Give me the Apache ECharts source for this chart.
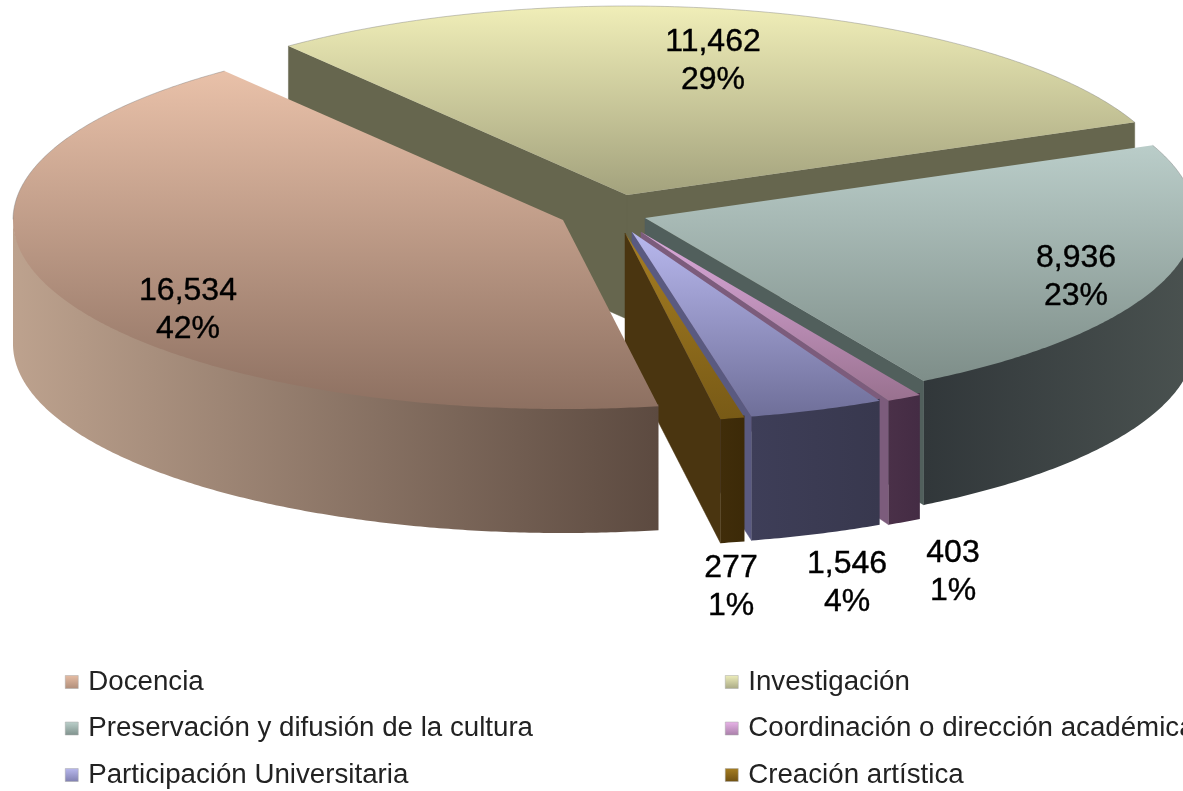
<!DOCTYPE html>
<html><head><meta charset="utf-8">
<style>html,body{margin:0;padding:0;background:#fff}#c{width:1183px;height:791px}</style>
<script src="https://cdn.jsdelivr.net/npm/echarts@6/dist/echarts.min.js"></script>
</head><body><div id="c"></div>
<script>
const categories = ['Docencia','Investigación','Preservación y difusión de la cultura','Coordinación o dirección académica','Participación Universitaria','Creación artística'];
const values = [16534,11462,8936,403,1546,277];
const percents = [42,29,23,1,4,1];

// layout of the 3D pie
const RX = 550, RY = 189, DEPTH = 124, START_DEG = -80;
const apexes = [[563,220],[627,195],[645,218],[641,232],[632,232],[625,233]];
const labelCenters = [[188,310],[713,61],[1076,277],[953,572],[847,583],[731,587]];
const drawOrder = [1,2,3,4,5,0];
const topColors = [['#e9c1a9','#8d7061'],['#f0eeb8','#a3a27d'],['#bacdc9','#7e8e89'],['#dcaadc','#99718f'],['#b8b8ee','#6f6f99'],['#a67e22','#785a16']];
const radialColors = ['#6b564a','#66664e','#515f5c','#7c5c7c','#5a5a80','#4a3510'];
const wallColors = [['#bda28e','#5c4a40'],['#66664e','#66664e'],['#31373a','#4a5250'],['#4a3048','#442c44'],['#3e3e58','#38384e'],['#402d0a','#3c2a08']];
const legendColors = [['#e6bda4','#b08e7a'],['#eeeebb','#a9a985'],['#bcd0cb','#7f928d'],['#e8b4e8','#a97fa9'],['#b9b9ee','#8080b0'],['#a67e22','#6f5012']];

const total = values.reduce((a,b)=>a+b,0);
const spans = values.map(v=>v/total*360);
const hiAngles = spans.map((_,i)=>START_DEG - spans.slice(0,i).reduce((a,b)=>a+b,0));

const rad = d => d*Math.PI/180;
const vgrad = c => ({type:'linear',x:0,y:0,x2:0,y2:1,colorStops:[{offset:0,color:c[0]},{offset:1,color:c[1]}]});
const hgrad = c => ({type:'linear',x:0,y:0,x2:1,y2:0,colorStops:[{offset:0,color:c[0]},{offset:1,color:c[1]}]});

function renderSlice(i, api){
  const span = api.value(0)/total*360;
  const hi = hiAngles[i], lo = hi - span;       // slice runs clockwise from hi to lo
  const [cx,cy] = apexes[i];
  const pt = (a,dz=0)=>[cx+RX*Math.cos(rad(a)), cy-RY*Math.sin(rad(a))+dz];
  const arc = (a,b,dz=0)=>{const n=Math.max(2,Math.ceil(Math.abs(b-a)*2)),o=[];
    for(let k=0;k<=n;k++)o.push(pt(a+(b-a)*k/n,dz));return o;};
  const kids = [];
  const wall = (a)=>({type:'polygon',shape:{points:[[cx,cy],pt(a),pt(a,DEPTH),[cx,cy+DEPTH]]},
    style:{fill:radialColors[i],stroke:radialColors[i],lineWidth:0.5}});
  if(Math.sin(rad(hi+90))<0) kids.push(wall(hi));
  if(Math.sin(rad(lo-90))<0) kids.push(wall(lo));
  // front part of the rim: the angles whose sine is negative
  [[Math.max(lo,-180),Math.min(hi,0)],[Math.max(lo,-540),Math.min(hi,-360)]].forEach(([p,q])=>{
    if(q>p){
      kids.push({type:'polygon',shape:{points:arc(p,q,-2).concat(arc(q,p,DEPTH))},
        style:{fill:hgrad(wallColors[i])}});
    }
  });
  kids.push({type:'polygon',shape:{points:[[cx,cy]].concat(arc(hi,lo))},
    style:{fill:vgrad(topColors[i])}});
  kids.push({type:'polyline',shape:{points:arc(hi,lo).filter(p=>p[1]<cy)},
    style:{fill:'none',stroke:'rgba(120,120,120,0.4)',lineWidth:1}});
  kids.push({type:'text',z2:50,style:{x:labelCenters[i][0],y:labelCenters[i][1],
    text:api.value(0).toLocaleString('en-US')+'\n'+percents[i]+'%',
    fill:'#000',stroke:'#000',lineWidth:0.4,font:'32px "Liberation Sans", Arial, sans-serif',lineHeight:38,
    align:'center',verticalAlign:'middle'}});
  return {type:'group',children:kids};
}

const chart = echarts.init(document.getElementById('c'),null,{renderer:'canvas'});
const legendBase = {orient:'vertical',itemWidth:13,itemHeight:13,itemGap:18.5,icon:'rect',selectedMode:false,padding:0,
  textStyle:{fontFamily:'"Liberation Sans", Arial, sans-serif',fontSize:27.7,color:'#222',padding:[0,0,0,5]}};
const legendData = idx => idx.map(i=>({name:categories[i],itemStyle:{color:vgrad(legendColors[i]),borderColor:'#a8a8a8',borderWidth:0.5}}));
chart.setOption({
  backgroundColor:'#fff',
  animation:false,
  legend:[
    Object.assign({},legendBase,{left:65,top:668,data:legendData([0,2,4])}),
    Object.assign({},legendBase,{left:725,top:668,data:legendData([1,3,5])})
  ],
  series:drawOrder.map(i=>({
    type:'custom',name:categories[i],coordinateSystem:'none',silent:true,
    itemStyle:{color:topColors[i][0]},
    data:[[values[i]]],
    renderItem:(p,api)=>renderSlice(i,api)
  }))
});
</script></body></html>
